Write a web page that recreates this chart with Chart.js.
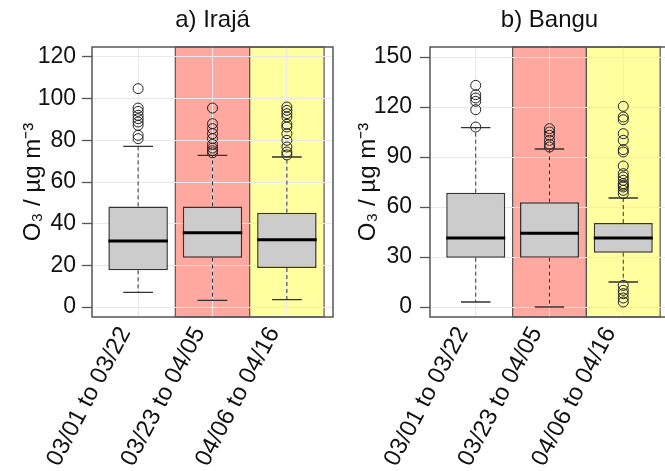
<!DOCTYPE html>
<html lang="en">
<head>
<meta charset="UTF-8">
<title>O3 box plots - Irajá and Bangu</title>
<script src="https://cdn.jsdelivr.net/npm/chart.js"></script>
<style>
  body { margin: 0; width: 665px; height: 471px; overflow: hidden; background: #fff; position: relative; }
  canvas { position: absolute; top: 0; }
</style>
</head>
<body>
<canvas id="irajaChart" width="340" height="471" style="left:0"></canvas>
<canvas id="banguChart" width="385" height="471" style="left:290px"></canvas>

<script>
// periods (x categories)
const periods = ['03/01 to 03/22', '03/23 to 04/05', '04/06 to 04/16'];

// a) Irajá - O3 box statistics per period
const irajaLow = [7.0, 3.2, 3.5];
const irajaQ1 = [17.6, 23.7, 18.7];
const irajaMedian = [31.7, 35.7, 32.3];
const irajaQ3 = [48.3, 48.3, 45.3];
const irajaHigh = [77.1, 72.8, 72.0];
const irajaOutliers = [
    [104.8, 95.5, 93.9, 92, 90.4, 88.8, 87.2, 82.4, 80.8],
    [95.5, 88, 85.6, 83.2, 80.8, 78, 76.3, 75, 74],
    [96, 94.4, 92.8, 91.2, 87.7, 86.4, 83.2, 80, 76.8, 74.4, 73]
];
const irajaTicks = [0, 20, 40, 60, 80, 100, 120];

// b) Bangu
const banguLow = [3, 0, 15];
const banguQ1 = [29.6, 29.6, 32.6];
const banguMedian = [41.4, 44.2, 41.4];
const banguQ3 = [68.6, 62.8, 50.4];
const banguHigh = [107.6, 94.8, 65.4];
const banguOutliers = [
    [133, 127.4, 125.4, 123.4, 118.4, 108],
    [107, 105, 103, 100, 97.6, 96],
    [120.4, 114, 112.4, 104, 100, 94.4, 93, 84.6, 80, 78, 76, 74, 73, 72, 70, 68,
     13, 10, 8, 5.4, 3]
];
const banguTicks = [0, 30, 60, 90, 120, 150];

// period shading (first period left white)
const bandColors = [null, '#ffa89f', '#ffff9f'];

Chart.defaults.font.family = "'Liberation Sans', Arial, sans-serif";
Chart.defaults.color = '#111';

function boxParts(low, q1, med, q3, high) {
    return {
        id: 'boxParts',
        beforeDraw(chart) {
            const { ctx, chartArea: a, scales: { x } } = chart;
            ctx.save();
            bandColors.forEach((c, i) => {
                if (!c) return;
                const l = x.getPixelForValue(i + 0.5), r = x.getPixelForValue(i + 1.5);
                ctx.fillStyle = c;
                ctx.fillRect(l, a.top, r - l, a.bottom - a.top);
                ctx.strokeStyle = '#555';
                ctx.lineWidth = 1.2;
                ctx.strokeRect(l, a.top, r - l, a.bottom - a.top);
            });
            ctx.restore();
        },
        afterDatasetsDraw(chart) {
            const { ctx, scales: { x, y } } = chart;
            ctx.save();
            periods.forEach((p, i) => {
                const cx = x.getPixelForValue(i + 1);
                const capL = x.getPixelForValue(i + 0.8), capR = x.getPixelForValue(i + 1.2);
                // dashed whiskers
                ctx.strokeStyle = '#333';
                ctx.lineWidth = 1;
                ctx.setLineDash([4, 3]);
                ctx.beginPath();
                ctx.moveTo(cx, y.getPixelForValue(q3[i]));
                ctx.lineTo(cx, y.getPixelForValue(high[i]));
                ctx.moveTo(cx, y.getPixelForValue(q1[i]));
                ctx.lineTo(cx, y.getPixelForValue(low[i]));
                ctx.stroke();
                // caps
                ctx.setLineDash([]);
                ctx.lineWidth = 1.3;
                ctx.beginPath();
                [low[i], high[i]].forEach(v => {
                    ctx.moveTo(capL, y.getPixelForValue(v));
                    ctx.lineTo(capR, y.getPixelForValue(v));
                });
                ctx.stroke();
                // median
                ctx.strokeStyle = '#000';
                ctx.lineWidth = 3;
                ctx.beginPath();
                ctx.moveTo(x.getPixelForValue(i + 0.6), y.getPixelForValue(med[i]));
                ctx.lineTo(x.getPixelForValue(i + 1.4), y.getPixelForValue(med[i]));
                ctx.stroke();
            });
            ctx.restore();
        },
        afterDraw(chart) {
            const { ctx, chartArea: a } = chart;
            ctx.save();
            ctx.strokeStyle = '#555';
            ctx.lineWidth = 1.5;
            ctx.strokeRect(a.left, a.top, a.right - a.left, a.bottom - a.top);
            ctx.restore();
        }
    };
}

function makeChart(id, title, low, q1, med, q3, high, outliers, yTicks, yMin, yMax, opts) {
    const ctx = document.getElementById(id).getContext('2d');
    return new Chart(ctx, {
        type: 'bar',
        data: {
            datasets: [{
                type: 'bar',
                data: periods.map((p, i) => ({ x: i + 1, y: [q1[i], q3[i]] })),
                backgroundColor: '#cccccc',
                borderColor: '#333333',
                borderWidth: 1.5,
                borderSkipped: false,
                barPercentage: 0.8,
                categoryPercentage: 1
            }, {
                type: 'scatter',
                data: outliers.flatMap((vals, i) => vals.map(v => ({ x: i + 1, y: v }))),
                pointStyle: 'circle',
                pointRadius: 5,
                borderColor: '#222',
                borderWidth: 1,
                backgroundColor: 'rgba(0,0,0,0)'
            }]
        },
        options: {
            responsive: false,
            animation: false,
            layout: { padding: { right: opts.padRight } },
            plugins: {
                legend: { display: false },
                tooltip: { enabled: false },
                title: {
                    display: true,
                    text: title,
                    fullSize: false,
                    font: { size: 24, weight: 'normal' },
                    color: '#111',
                    padding: { top: 6, bottom: 12.2 }
                }
            },
            scales: {
                x: {
                    type: 'linear',
                    position: 'bottom',
                    offset: false,
                    min: 0.38,
                    max: 3.62,
                    afterBuildTicks(s) { s.ticks = periods.map((p, i) => ({ value: i + 1 })); },
                    ticks: {
                        autoSkip: false,
                        minRotation: 62,
                        maxRotation: 62,
                        padding: 5,
                        labelOffset: -13,
                        font: { size: 24 },
                        color: '#111',
                        callback: v => periods[v - 1]
                    },
                    grid: { color: '#e9e9e9', drawTicks: false, offset: false },
                    border: { display: false },
                    afterFit(s) { s.height = 154; s.paddingLeft = 0; s.paddingRight = 0; }
                },
                y: {
                    min: yMin,
                    max: yMax,
                    afterBuildTicks(s) { s.ticks = yTicks.map(v => ({ value: v })); },
                    ticks: { font: { size: 23 }, color: '#111', padding: opts.tickPad },
                    grid: { color: '#e9e9e9', tickColor: '#555', tickLength: 10, tickWidth: 1.3 },
                    border: { display: false },
                    title: {
                        display: true,
                        text: 'O₃ / µg m⁻³',
                        font: { size: 24 },
                        color: '#111',
                        padding: { top: opts.titlePad, bottom: 0 }
                    },
                    afterFit(s) { s.width = opts.axisWidth; }
                }
            }
        },
        plugins: [boxParts(low, q1, med, q3, high)]
    });
}

makeChart('irajaChart', 'a) Irajá', irajaLow, irajaQ1, irajaMedian, irajaQ3, irajaHigh, irajaOutliers,
    irajaTicks, -4.8, 124.8,
    { padRight: 7, axisWidth: 92, titlePad: 19, tickPad: 6 });

makeChart('banguChart', 'b) Bangu', banguLow, banguQ1, banguMedian, banguQ3, banguHigh, banguOutliers,
    banguTicks, -6, 156,
    { padRight: 6, axisWidth: 140, titlePad: 64, tickPad: 8 });
</script>
</body>
</html>
